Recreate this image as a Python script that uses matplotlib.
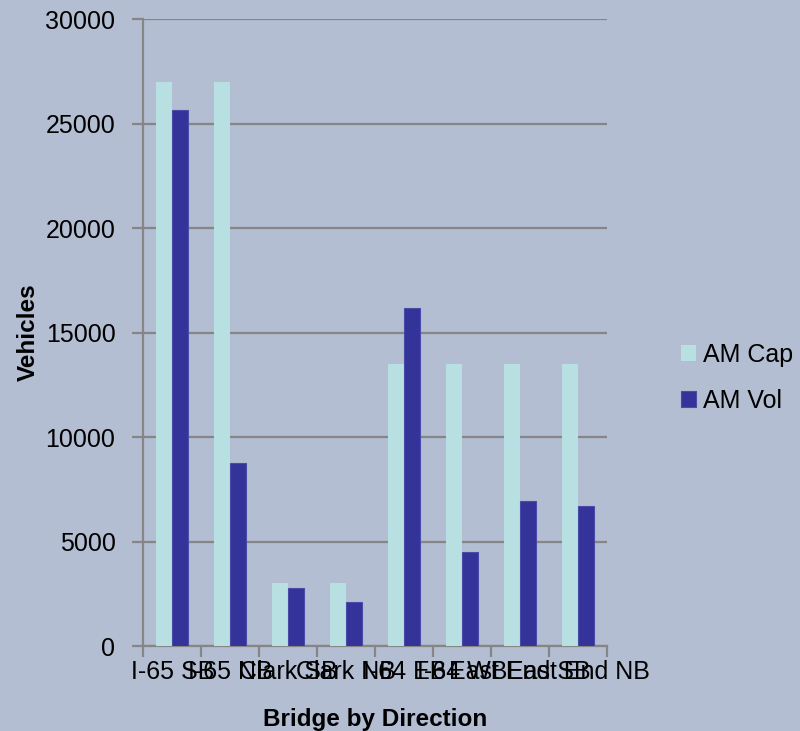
import numpy as np
import matplotlib
matplotlib.use('Agg')
import matplotlib.pyplot as plt
from matplotlib.ticker import MultipleLocator, FixedLocator

plt.rcParams['font.family'] = ['Liberation Sans', 'DejaVu Sans']

puentes = ['I-65 SB', 'I-65 NB', 'Clark SB', 'Clark NB', 'I-64 EB', 'I-64 WB', 'East End SB', 'East End NB']
am_cap = [27000, 27000, 3000, 3000, 13500, 13500, 13500, 13500]
am_vol = [25650, 8750, 2770, 2100, 16180, 4490, 6940, 6700]

fondo = '#b4bed2'
color_cap = '#b8e0e3'
color_vol = '#333399'
gris = '#868686'

fig = plt.figure(figsize=(8, 7.31), dpi=100, facecolor=fondo)
ax = fig.add_axes([0.179, 0.116, 0.58, 0.858])
ax.set_facecolor('none')

x = np.arange(len(puentes))
ancho = 0.276
ax.bar(x - ancho / 2, am_cap, ancho, color=color_cap, label='AM Cap', zorder=3)
ax.bar(x + ancho / 2, am_vol, ancho, color=color_vol, label='AM Vol', zorder=3,
       edgecolor='#4a4aa8', linewidth=0.8)

ax.set_xlim(-0.5, len(puentes) - 0.5)
ax.set_ylim(0, 30000)
ax.yaxis.set_major_locator(MultipleLocator(5000))
ax.grid(axis='y', color=gris, linewidth=1.6, zorder=0)

# las etiquetas se enciman igual que en el original
ax.set_xticks(x)
ax.set_xticklabels(puentes, fontsize=18)
ax.xaxis.set_minor_locator(FixedLocator(np.arange(len(puentes) + 1) - 0.5))
ax.tick_params(axis='x', which='major', length=0, pad=10)
ax.tick_params(axis='x', which='minor', length=8, width=1.6, color=gris, direction='out')
ax.tick_params(axis='y', length=8, width=1.6, color=gris, labelsize=18, pad=12)

for lado in ['top', 'right']:
    ax.spines[lado].set_visible(False)
for lado in ['left', 'bottom']:
    ax.spines[lado].set_color(gris)
    ax.spines[lado].set_linewidth(1.6)

ax.set_xlabel('Bridge by Direction', fontsize=17.5, fontweight='bold', labelpad=17)
ax.set_ylabel('Vehicles', fontsize=17.5, fontweight='bold', labelpad=4)

ax.legend(loc='center left', bbox_to_anchor=(1.11, 0.428), frameon=False, fontsize=18,
          handlelength=0.6, handleheight=0.6, handletextpad=0.3, labelspacing=0.9)

fig.savefig('out.png', dpi=100, facecolor=fondo)
